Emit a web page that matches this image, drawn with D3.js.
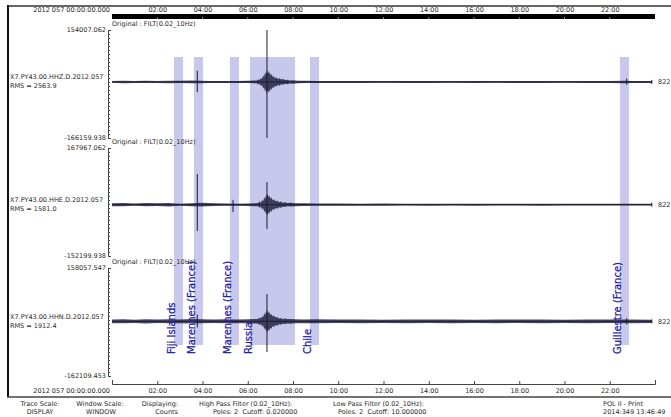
<!DOCTYPE html>
<html>
<head>
<meta charset="utf-8">
<script src="https://cdn.jsdelivr.net/npm/d3@7"></script>
<style>
    body { margin: 0; background: #fff; }
    svg text { font-family: "DejaVu Sans", sans-serif; white-space: pre; }
</style>
</head>
<body>
<div id="main_area"></div>
<script>
// ---- data ----
var stations = ["X7.PY43.00.HHZ.D.2012.057", "X7.PY43.00.HHE.D.2012.057", "X7.PY43.00.HHN.D.2012.057"];
var rmsValues = ["2563.9", "1581.0", "1912.4"];
var yMaxLabels = [154007.062, 167967.062, 158057.547];
var yMinLabels = [-166159.938, -152199.938, -162109.453];
var timeTicks = [2, 4, 6, 8, 10, 12, 14, 16, 18, 20, 22];
var startLabel = "2012 057 00:00:00.000";
var endLabel = "822";

// event windows (hours)
var eventNames = ["Fiji Islands", "Marennes (France)", "Marennes (France)", "Russia", "Chile", "Guillestre (France)"];
var eventStart = [2.74, 3.62, 5.21, 6.10, 8.75, 22.45];
var eventEnd = [3.14, 4.02, 5.61, 8.09, 9.15, 22.85];

// trace envelopes: [hour, half amplitude in counts]
var hhzEnv = [[0, 2500], [0.5, 3500], [1, 2800], [1.5, 3200], [2, 3000], [2.5, 3600], [3, 3200], [3.5, 4200], [3.9, 3800],
    [4.3, 3000], [5, 2800], [5.5, 3000], [6, 3400], [6.3, 4000], [6.4, 4000], [6.48, 8000], [6.52, 5000], [6.58, 12000],
    [6.63, 9000], [6.68, 20000], [6.72, 15000], [6.76, 28000], [6.8, 22000], [6.83, 36000], [6.87, 26000], [6.9, 33000],
    [6.94, 24000], [6.98, 29000], [7.02, 19000], [7.06, 23000], [7.1, 15000], [7.15, 18000], [7.2, 11000], [7.26, 14000],
    [7.32, 9000], [7.4, 11000], [7.48, 7000], [7.56, 8500], [7.65, 5500], [7.75, 6500], [7.85, 4500], [8, 5000],
    [8.2, 3800], [8.6, 3400], [9, 3000], [10, 2800], [11, 3000], [12, 2700], [13, 3000], [14, 2800],
    [15, 2600], [16, 2900], [17, 2700], [18, 3000], [19, 2800], [20, 2600], [21, 2900], [22, 3000], [22.7, 3800],
    [23, 3000], [23.86, 2800]];
var hheEnv = [[0, 4500], [0.5, 5000], [1, 3500], [1.5, 4800], [2, 4000], [2.5, 5200], [3, 3000], [3.5, 4500], [4, 5500],
    [4.5, 4000], [5, 3500], [5.5, 3000], [6, 3800], [6.3, 4500], [6.45, 5000], [6.52, 9000], [6.58, 6000], [6.63, 14000],
    [6.68, 10000], [6.73, 22000], [6.77, 17000], [6.81, 30000], [6.84, 24000], [6.88, 33000], [6.92, 22000], [6.96, 27000],
    [7.0, 18000], [7.05, 21000], [7.1, 13000], [7.16, 16000], [7.22, 10000], [7.3, 12000], [7.38, 7500], [7.46, 9000],
    [7.55, 6000], [7.65, 7000], [7.75, 5000], [7.9, 5500], [8.1, 4500], [8.5, 4000], [9, 3500], [10, 3200], [11, 3000],
    [12, 3200], [13, 2800], [14, 3000], [15, 2700], [16, 3000], [17, 2800], [18, 2600], [19, 2900], [20, 2700],
    [21, 2800], [22, 2600], [23, 2800], [23.86, 2600]];
var hhnEnv = [[0, 5500], [0.5, 6000], [1, 5000], [1.5, 6200], [2, 5200], [2.5, 6000], [3, 5500], [3.5, 6500], [4, 5800],
    [4.5, 5200], [5, 6000], [5.5, 5400], [6, 6000], [6.3, 6500], [6.45, 7000], [6.52, 11000], [6.58, 8000], [6.63, 15000],
    [6.68, 12000], [6.73, 24000], [6.77, 18000], [6.81, 31000], [6.84, 25000], [6.88, 34000], [6.92, 23000], [6.96, 28000],
    [7.0, 19000], [7.05, 22000], [7.1, 14000], [7.16, 17000], [7.22, 11000], [7.3, 13000], [7.38, 8500], [7.46, 10000],
    [7.55, 7000], [7.65, 8000], [7.75, 6500], [7.9, 7000], [8.1, 6000], [8.5, 5500], [9, 5800], [10, 5200], [11, 5600],
    [12, 5000], [13, 5500], [14, 5200], [15, 5600], [16, 5000], [17, 5400], [18, 5200], [19, 5600], [20, 5000],
    [21, 5400], [22, 5200], [23, 5500], [23.86, 5000]];

// single spikes: [hour, max, min]
var hhzSpikes = [[3.77, 33000, -30000], [6.85, 154007, -166159], [22.75, 10000, -8000]];
var hheSpikes = [[3.77, 91000, -78000], [5.35, 14000, -22000], [6.85, 67000, -72000]];
var hhnSpikes = [[3.77, 20000, -18000], [6.85, 81000, -91000], [22.75, 9000, -9000]];

var envelopes = [hhzEnv, hheEnv, hhnEnv];
var spikes = [hhzSpikes, hheSpikes, hhnSpikes];

function drawSeismo() {
    var W = 671, H = 417;
    var panelTop = [30, 148, 268],
        panelH = 108;
    var traceColor = "#1c1c38",
        textColor = "#2a2a2a";

    var svg = d3.select("div#main_area")
        .append("svg")
        .attr("width", W)
        .attr("height", H);

    var x = d3.scaleLinear().domain([0, 24]).range([112, 655]);
    var fmt = function (h) { return (h < 10 ? "0" : "") + h + ":00"; };

    // 事件窗口
    svg.append("g")
        .selectAll("rect")
        .data(eventStart)
        .enter()
        .append("rect")
        .attr("x", function (d) { return x(d); })
        .attr("y", 57)
        .attr("width", function (d, i) { return x(eventEnd[i]) - x(d); })
        .attr("height", 288)
        .attr("fill", "#c8c8ec");

    // 三个道
    panelTop.forEach(function (top, p) {
        var y = d3.scaleLinear()
            .domain([yMinLabels[p], yMaxLabels[p]])
            .range([top + panelH, top]);
        var g = svg.append("g");
        var env = envelopes[p];
        var tEnd = env[env.length - 1][0];

        // y ruler
        var ticks = d3.range(28).map(function (i) {
            return yMinLabels[p] + i * (yMaxLabels[p] - yMinLabels[p]) / 27;
        });
        g.append("g")
            .attr("transform", "translate(108,0)")
            .call(d3.axisRight(y).tickValues(ticks).tickSizeInner(2).tickSizeOuter(3).tickFormat(""))
            .call(function (a) {
                a.selectAll("line").attr("stroke", "#444");
                a.select(".domain").attr("stroke", "#444");
            });

        g.append("text").attr("x", 106).attr("y", top + 2.3)
            .attr("text-anchor", "end").attr("font-size", 6.5).attr("fill", textColor)
            .text(yMaxLabels[p].toFixed(3));
        g.append("text").attr("x", 106).attr("y", top + panelH + 2.3)
            .attr("text-anchor", "end").attr("font-size", 6.5).attr("fill", textColor)
            .text(yMinLabels[p].toFixed(3));
        g.append("text").attr("x", 112).attr("y", top - 4)
            .attr("font-size", 6.5).attr("fill", textColor)
            .text("Original : FILT(0.02_10Hz)");

        var zero = y(0);
        g.append("text").attr("x", 10).attr("y", zero - 2.5)
            .attr("font-size", 6.5).attr("fill", textColor).text(stations[p]);
        g.append("text").attr("x", 10).attr("y", zero + 6.5)
            .attr("font-size", 6.5).attr("fill", textColor).text("RMS = " + rmsValues[p]);
        g.append("text").attr("x", 658).attr("y", zero + 2.3)
            .attr("font-size", 6.5).attr("fill", textColor).text(endLabel);

        // waveform
        var area = d3.area()
            .x(function (d) { return x(d[0]); })
            .y0(function (d) { return y(-d[1]); })
            .y1(function (d) { return y(d[1]); });
        g.append("path")
            .datum(env)
            .attr("d", area)
            .attr("fill", traceColor)
            .attr("opacity", 0.8);
        g.append("line")
            .attr("x1", x(0)).attr("x2", x(tEnd))
            .attr("y1", zero).attr("y2", zero)
            .attr("stroke", traceColor).attr("stroke-width", 1);
        g.selectAll("line.spike")
            .data(spikes[p])
            .enter()
            .append("line")
            .attr("class", "spike")
            .attr("x1", function (d) { return x(d[0]); })
            .attr("x2", function (d) { return x(d[0]); })
            .attr("y1", function (d) { return y(d[1]); })
            .attr("y2", function (d) { return y(d[2]); })
            .attr("stroke", traceColor).attr("stroke-width", 1);
        g.append("line")
            .attr("x1", x(tEnd)).attr("x2", x(tEnd))
            .attr("y1", zero - 2).attr("y2", zero + 2)
            .attr("stroke", traceColor);
    });

    // 事件标签
    svg.append("g")
        .selectAll("text")
        .data(eventNames)
        .enter()
        .append("text")
        .attr("transform", function (d, i) {
            return "translate(" + (x(eventStart[i]) + 1.5) + ",354) rotate(-90)";
        })
        .attr("font-size", 10)
        .attr("fill", "#2222a0")
        .attr("stroke", "#2222a0")
        .attr("stroke-width", 0.25)
        .text(function (d) { return d; });

    // 顶部时间轴
    svg.append("rect")
        .attr("x", x(0)).attr("y", 14)
        .attr("width", x(24) - x(0)).attr("height", 5)
        .attr("fill", "#000");
    svg.append("g")
        .selectAll("line")
        .data(timeTicks)
        .enter()
        .append("line")
        .attr("x1", function (d) { return x(d); })
        .attr("x2", function (d) { return x(d); })
        .attr("y1", 17).attr("y2", 19)
        .attr("stroke", "#888");
    svg.append("g")
        .attr("transform", "translate(0,13)")
        .call(d3.axisTop(x).tickValues(timeTicks).tickSize(0).tickPadding(1).tickFormat(fmt))
        .call(function (a) {
            a.select(".domain").remove();
            a.selectAll("text").attr("font-size", 6.5).attr("fill", textColor)
                .attr("font-family", "DejaVu Sans");
        });
    svg.append("text").attr("x", 110).attr("y", 12.3)
        .attr("text-anchor", "end").attr("font-size", 6.5).attr("fill", textColor).text(startLabel);

    // 底部时间轴
    svg.append("g")
        .attr("transform", "translate(0,384)")
        .call(d3.axisBottom(x).tickValues(timeTicks).tickSizeInner(-3).tickSizeOuter(-4).tickPadding(4.5).tickFormat(fmt))
        .call(function (a) {
            a.selectAll("line").attr("stroke", "#444");
            a.select(".domain").attr("stroke", "#444");
            a.selectAll("text").attr("font-size", 6.5).attr("fill", textColor)
                .attr("font-family", "DejaVu Sans");
        });
    svg.append("text").attr("x", 110).attr("y", 393.3)
        .attr("text-anchor", "end").attr("font-size", 6.5).attr("fill", textColor).text(startLabel);

    // frame
    svg.append("line").attr("x1", 8).attr("x2", W).attr("y1", 6).attr("y2", 6)
        .attr("stroke", "#333").attr("stroke-width", 1.5);
    svg.append("line").attr("x1", 8).attr("x2", 8).attr("y1", 5).attr("y2", 397)
        .attr("stroke", "#111").attr("stroke-width", 2);
    svg.append("line").attr("x1", 7).attr("x2", W).attr("y1", 397).attr("y2", 397)
        .attr("stroke", "#444").attr("stroke-width", 1.5);

    // footer
    var footer = [
        ["Trace Scale:", 40, 405.5, "middle"], ["DISPLAY", 40, 413.5, "middle"],
        ["Window Scale:", 100, 405.5, "middle"], ["WINDOW", 101, 413.5, "middle"],
        ["Displaying:", 178, 405.5, "end"], ["Counts", 178, 413.5, "end"],
        ["High Pass Filter (0.02_10Hz):", 199, 405.5, "start"], ["Poles: 2  Cutoff: 0.020000", 213, 413.5, "start"],
        ["Low Pass Filter (0.02_10Hz):", 333, 405.5, "start"], ["Poles: 2  Cutoff: 10.000000", 338, 413.5, "start"],
        ["PQL II - Print", 603, 405.5, "start"], ["2014:349 13:46:49", 603, 413.5, "start"]
    ];
    svg.append("g")
        .selectAll("text")
        .data(footer)
        .enter()
        .append("text")
        .attr("x", function (d) { return d[1]; })
        .attr("y", function (d) { return d[2]; })
        .attr("text-anchor", function (d) { return d[3]; })
        .attr("font-size", 6.5)
        .attr("fill", textColor)
        .text(function (d) { return d[0]; });
}

drawSeismo();
</script>
</body>
</html>
